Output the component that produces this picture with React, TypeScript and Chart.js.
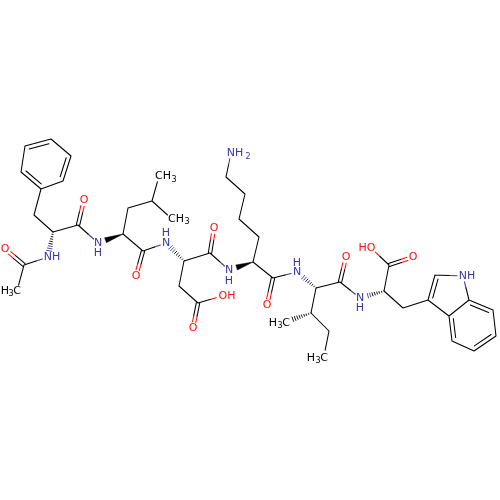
import React, { useEffect, useRef } from 'react';
import { Chart, registerables } from 'chart.js';

Chart.register(...registerables);

// atoms of the peptide (y runs downwards)
const atomNames = [
  'p1', 'p2', 'p3', 'p4', 'p5', 'p6', 'pheB', 'pheA', 'pheC', 'pheO', 'acN', 'acC', 'acO', 'acMe',
  'leuN', 'leuA', 'leuB', 'leuG', 'leuD1', 'leuD2', 'leuC', 'leuO',
  'aspN', 'aspA', 'aspB', 'aspG', 'aspOH', 'aspO', 'aspC', 'aspCO',
  'lysN', 'lysA', 'lysB', 'lysG', 'lysD', 'lysE', 'lysNZ', 'lysC', 'lysO',
  'ileN', 'ileA', 'ileB', 'ileMe', 'ileG', 'ileD', 'ileC', 'ileO',
  'trpN', 'trpA', 'trpC', 'trpO', 'trpOH', 'trpB', 'c3', 'c2', 'n1', 'c7a', 'c3a', 'c4', 'c5', 'c6', 'c7',
];
const atomX = [
  25, 51, 71, 63, 41, 21, 34, 53, 78, 84, 48, 24, 5, 17,
  98, 123, 128, 152, 159, 172, 143, 136,
  166, 184, 179, 198, 222, 193, 210, 214,
  229, 253, 259, 239, 245, 226, 231, 273, 267,
  297, 316, 311, 285, 329, 324, 340, 346,
  360, 384, 389, 413, 371, 403, 428, 435, 463, 469, 449, 452, 474, 496, 493,
];
const atomY = [
  146, 139, 156, 181, 189, 172, 215, 232, 225, 200, 257, 265, 249, 291,
  243, 234, 208, 201, 176, 219, 251, 276,
  243, 261, 286, 303, 296, 328, 253, 228,
  270, 262, 237, 219, 194, 177, 153, 278, 305,
  272, 288, 313, 322, 331, 356, 282, 257,
  298, 291, 265, 257, 248, 308, 300, 275, 276, 300, 316, 341, 351, 336, 310,
];

const nitrogens = ['acN', 'leuN', 'aspN', 'lysN', 'lysNZ', 'ileN', 'trpN', 'n1'];
const oxygens = ['pheO', 'acO', 'leuO', 'aspOH', 'aspO', 'aspCO', 'lysO', 'ileO', 'trpO', 'trpOH'];
const methyls = ['acMe', 'leuD1', 'leuD2', 'ileMe', 'ileD'];

const singleBonds = [
  ['p2', 'p3'], ['p4', 'p5'], ['p6', 'p1'], ['p5', 'pheB'], ['pheB', 'pheA'], ['pheA', 'pheC'], ['pheC', 'leuN'],
  ['acN', 'acC'], ['acC', 'acMe'],
  ['leuA', 'leuB'], ['leuB', 'leuG'], ['leuG', 'leuD1'], ['leuG', 'leuD2'], ['leuA', 'leuC'], ['leuC', 'aspN'],
  ['aspA', 'aspC'], ['aspA', 'aspB'], ['aspB', 'aspG'], ['aspG', 'aspOH'], ['aspC', 'lysN'],
  ['lysA', 'lysB'], ['lysB', 'lysG'], ['lysG', 'lysD'], ['lysD', 'lysE'], ['lysE', 'lysNZ'], ['lysA', 'lysC'], ['lysC', 'ileN'],
  ['ileA', 'ileB'], ['ileB', 'ileG'], ['ileG', 'ileD'], ['ileA', 'ileC'], ['ileC', 'trpN'],
  ['trpA', 'trpC'], ['trpC', 'trpOH'], ['trpA', 'trpB'], ['trpB', 'c3'], ['c2', 'n1'], ['n1', 'c7a'], ['c3', 'c3a'],
  ['c7a', 'c3a'], ['c4', 'c5'], ['c6', 'c7'],
];
const carbonylBonds = [
  ['pheC', 'pheO'], ['acC', 'acO'], ['leuC', 'leuO'], ['aspG', 'aspO'], ['aspC', 'aspCO'],
  ['lysC', 'lysO'], ['ileC', 'ileO'], ['trpC', 'trpO'],
];
// ring double bonds: [from, to, atom the inner line leans towards]
const ringBonds = [
  ['p1', 'p2', 'p4'], ['p3', 'p4', 'p6'], ['p5', 'p6', 'p2'],
  ['c3', 'c2', 'n1'], ['c3a', 'c4', 'c6'], ['c5', 'c6', 'c3a'], ['c7', 'c7a', 'c4'],
];
const wedgeBonds = [['leuA', 'leuN'], ['lysA', 'lysN']];
const hashBonds = [['pheA', 'acN'], ['aspA', 'aspN'], ['ileA', 'ileN'], ['ileB', 'ileMe'], ['trpA', 'trpN']];

// atom labels: text, centre x, centre y
const nitrogenText = ['NH', 'N', 'H', 'N', 'H', 'N', 'H', 'N', 'H', 'NH', 'N', 'H', 'NH'];
const nitrogenTextX = [52, 98, 98, 166, 166, 229, 229, 297, 297, 235, 360, 360, 467];
const nitrogenTextY = [257, 243, 253, 243, 233, 270, 281, 272, 263, 153, 298, 308, 276];
const oxygenText = ['O', 'O', 'O', 'OH', 'O', 'O', 'O', 'O', 'O', 'HO'];
const oxygenTextX = [84, 5, 136, 227, 193, 214, 267, 346, 413, 367];
const oxygenTextY = [200, 249, 276, 296, 328, 228, 305, 257, 257, 248];
const carbonText = ['CH', 'CH', 'H', 'C', 'H', 'C', 'H', 'C'];
const carbonTextX = [163, 176, 5, 17, 273, 286, 311, 324];
const carbonTextY = [176, 219, 291, 291, 323, 323, 358, 358];
const methylSubX = [174, 187, 11, 280, 318];
const methylSubY = [180, 222, 294, 326, 361];
const amineSubX = [248];
const amineSubY = [157];

const BLACK = '#000000';
const BLUE = '#3838a8';
const RED = '#ff0d0d';
const GAP = 6;
type Pt = { x: number; y: number };

const at = (name: string): Pt => {
  const i = atomNames.indexOf(name);
  return { x: atomX[i], y: atomY[i] };
};
const colorOf = (name: string) => (nitrogens.includes(name) ? BLUE : oxygens.includes(name) ? RED : BLACK);
const clipped = (name: string) => nitrogens.includes(name) || oxygens.includes(name) || methyls.includes(name);
const lerp = (a: Pt, b: Pt, t: number): Pt => ({ x: a.x + (b.x - a.x) * t, y: a.y + (b.y - a.y) * t });
const normal = (a: Pt, b: Pt): Pt => {
  const len = Math.hypot(b.x - a.x, b.y - a.y);
  return { x: -(b.y - a.y) / len, y: (b.x - a.x) / len };
};

const gap = { x: NaN, y: NaN };
const paths: Record<string, Pt[]> = { [BLACK]: [], [BLUE]: [], [RED]: [] };

// one bond cut in two halves, each in the colour of its atom
const addBond = (na: string, nb: string, a: Pt, b: Pt) => {
  const len = Math.hypot(b.x - a.x, b.y - a.y);
  const s = clipped(na) ? lerp(a, b, GAP / len) : a;
  const e = clipped(nb) ? lerp(b, a, GAP / len) : b;
  const mid = lerp(a, b, 0.5);
  const ca = colorOf(na);
  const cb = colorOf(nb);
  if (ca === cb) {
    paths[ca].push(s, e, gap);
  } else {
    paths[ca].push(s, mid, gap);
    paths[cb].push(mid, e, gap);
  }
};

singleBonds.forEach(([p, q]) => addBond(p, q, at(p), at(q)));
carbonylBonds.forEach(([p, q]) => {
  const a = at(p);
  const b = at(q);
  const n = normal(a, b);
  [-1.7, 1.7].forEach((d) => {
    addBond(p, q, { x: a.x + n.x * d, y: a.y + n.y * d }, { x: b.x + n.x * d, y: b.y + n.y * d });
  });
});
ringBonds.forEach(([p, q, side]) => {
  const a = at(p);
  const b = at(q);
  addBond(p, q, a, b);
  const n = normal(a, b);
  const c = at(side);
  const sign = (c.x - a.x) * n.x + (c.y - a.y) * n.y > 0 ? 1 : -1;
  const a2 = lerp(a, b, 0.12);
  const b2 = lerp(a, b, 0.88);
  paths[BLACK].push(
    { x: a2.x + n.x * sign * 4, y: a2.y + n.y * sign * 4 },
    { x: b2.x + n.x * sign * 4, y: b2.y + n.y * sign * 4 },
    gap,
  );
});

const hashPaths: Record<string, Pt[]> = { [BLACK]: [], [BLUE]: [] };
hashBonds.forEach(([p, q]) => {
  const a = at(p);
  const b = at(q);
  const n = normal(a, b);
  const len = Math.hypot(b.x - a.x, b.y - a.y);
  const steps = Math.floor((len - GAP) / 2.4);
  for (let i = 0; i <= steps; i++) {
    const t = (i * 2.4) / len;
    const c = lerp(a, b, t);
    const half = 0.3 + t * 3;
    const color = t > 0.5 ? colorOf(q) : BLACK;
    hashPaths[color].push({ x: c.x - n.x * half, y: c.y - n.y * half }, { x: c.x + n.x * half, y: c.y + n.y * half }, gap);
  }
});

const wedgeShapes = wedgeBonds.map(([p, q]) => {
  const a = at(p);
  const b = at(q);
  const n = normal(a, b);
  const len = Math.hypot(b.x - a.x, b.y - a.y);
  const e = lerp(b, a, (GAP + 2) / len);
  return [a, { x: e.x + n.x * 2.6, y: e.y + n.y * 2.6 }, { x: e.x - n.x * 2.6, y: e.y - n.y * 2.6 }, a];
});

const labelsPlugin = {
  id: 'atomLabels',
  afterDatasetsDraw(chart: any) {
    const { ctx, scales } = chart;
    const put = (text: (i: number) => string, xs: number[], ys: number[], color: string, size: number) => {
      ctx.save();
      ctx.font = `${size}px "DejaVu Sans"`;
      ctx.fillStyle = color;
      ctx.textAlign = 'center';
      ctx.textBaseline = 'middle';
      xs.forEach((x, i) => ctx.fillText(text(i), scales.x.getPixelForValue(x), scales.y.getPixelForValue(ys[i])));
      ctx.restore();
    };
    put((i) => nitrogenText[i], nitrogenTextX, nitrogenTextY, BLUE, 11);
    put((i) => oxygenText[i], oxygenTextX, oxygenTextY, RED, 11);
    put((i) => carbonText[i], carbonTextX, carbonTextY, BLACK, 11);
    put(() => '3', methylSubX, methylSubY, BLACK, 8);
    put(() => '2', amineSubX, amineSubY, BLUE, 8);
  },
};

const App = (): JSX.Element => {
  const canvasRef = useRef<HTMLCanvasElement>(null);

  useEffect(() => {
    if (!canvasRef.current) return;
    const line = (data: Pt[], color: string, width: number) => ({
      data,
      showLine: true,
      spanGaps: false,
      borderColor: color,
      borderWidth: width,
      borderCapStyle: 'round' as const,
      pointRadius: 0,
      tension: 0,
    });
    const chart = new Chart(canvasRef.current, {
      type: 'scatter',
      data: {
        datasets: [
          line(paths[BLACK], BLACK, 1.05),
          line(paths[BLUE], BLUE, 1.05),
          line(paths[RED], RED, 1.05),
          line(hashPaths[BLACK], BLACK, 0.9),
          line(hashPaths[BLUE], BLUE, 0.9),
          ...wedgeShapes.map((shape) => ({ ...line(shape, BLACK, 0.5), fill: 'shape', backgroundColor: BLACK })),
        ] as any,
      },
      options: {
        responsive: false,
        animation: false,
        layout: { padding: 0 },
        plugins: { legend: { display: false }, tooltip: { enabled: false } },
        scales: {
          x: { type: 'linear', min: 0, max: 500, display: false },
          y: { type: 'linear', min: 0, max: 500, reverse: true, display: false },
        },
      },
      plugins: [labelsPlugin],
    });
    return () => chart.destroy();
  }, []);

  return (
    <div style={{ position: 'absolute', left: 0, top: 0, width: 500, height: 500, background: '#ffffff' }}>
      <canvas ref={canvasRef} width={500} height={500} />
    </div>
  );
};

export default App;
